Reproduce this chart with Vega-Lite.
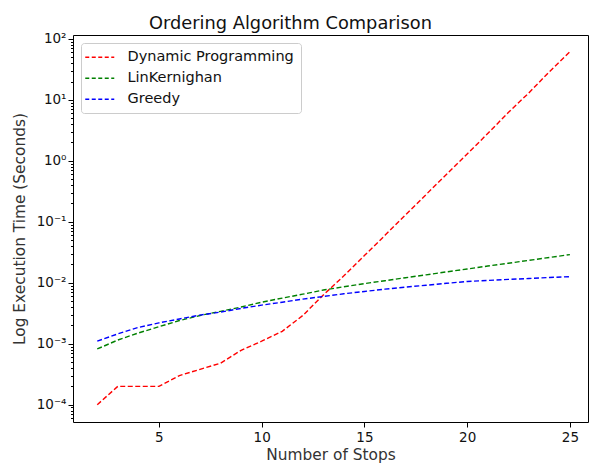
{
  "$schema": "https://vega.github.io/schema/vega-lite/v6.json",
  "autosize": "none",
  "width": 515,
  "height": 387,
  "padding": {"left": 73, "top": 35, "right": 4, "bottom": 48},
  "background": "white",
  "title": {"text": "Ordering Algorithm Comparison", "fontSize": 17.8, "fontWeight": "normal", "font": "DejaVu Sans", "color": "#111111", "offset": -1, "dx": -40, "anchor": "middle", "frame": "group"},
  "config": {
    "font": "DejaVu Sans",
    "view": {"stroke": "#000000", "strokeWidth": 1},
    "axis": {"grid": false, "domain": false, "tickColor": "#000000", "labelColor": "#111111", "titleColor": "#333333", "labelFont": "DejaVu Sans", "titleFont": "DejaVu Sans", "labelFontSize": 13.5, "titleFontSize": 15.4, "titleFontWeight": "normal"}
  },
  "data": {"values": [
    {"stops": 2, "algorithm": "Dynamic Programming", "time": 0.0001},
    {"stops": 3, "algorithm": "Dynamic Programming", "time": 0.0002},
    {"stops": 4, "algorithm": "Dynamic Programming", "time": 0.0002},
    {"stops": 5, "algorithm": "Dynamic Programming", "time": 0.0002},
    {"stops": 6, "algorithm": "Dynamic Programming", "time": 0.0003},
    {"stops": 7, "algorithm": "Dynamic Programming", "time": 0.00038},
    {"stops": 8, "algorithm": "Dynamic Programming", "time": 0.00048},
    {"stops": 9, "algorithm": "Dynamic Programming", "time": 0.00078},
    {"stops": 10, "algorithm": "Dynamic Programming", "time": 0.0011},
    {"stops": 11, "algorithm": "Dynamic Programming", "time": 0.0016},
    {"stops": 12, "algorithm": "Dynamic Programming", "time": 0.0029},
    {"stops": 13, "algorithm": "Dynamic Programming", "time": 0.0063},
    {"stops": 14, "algorithm": "Dynamic Programming", "time": 0.013},
    {"stops": 15, "algorithm": "Dynamic Programming", "time": 0.028},
    {"stops": 16, "algorithm": "Dynamic Programming", "time": 0.06},
    {"stops": 17, "algorithm": "Dynamic Programming", "time": 0.13},
    {"stops": 18, "algorithm": "Dynamic Programming", "time": 0.28},
    {"stops": 19, "algorithm": "Dynamic Programming", "time": 0.6},
    {"stops": 20, "algorithm": "Dynamic Programming", "time": 1.3},
    {"stops": 21, "algorithm": "Dynamic Programming", "time": 2.8},
    {"stops": 22, "algorithm": "Dynamic Programming", "time": 6.2},
    {"stops": 23, "algorithm": "Dynamic Programming", "time": 13},
    {"stops": 24, "algorithm": "Dynamic Programming", "time": 29},
    {"stops": 25, "algorithm": "Dynamic Programming", "time": 62},
    {"stops": 2, "algorithm": "LinKernighan", "time": 0.00082},
    {"stops": 3, "algorithm": "LinKernighan", "time": 0.00115},
    {"stops": 4, "algorithm": "LinKernighan", "time": 0.0015},
    {"stops": 5, "algorithm": "LinKernighan", "time": 0.0019},
    {"stops": 6, "algorithm": "LinKernighan", "time": 0.0024},
    {"stops": 7, "algorithm": "LinKernighan", "time": 0.0029},
    {"stops": 8, "algorithm": "LinKernighan", "time": 0.0034},
    {"stops": 9, "algorithm": "LinKernighan", "time": 0.004},
    {"stops": 10, "algorithm": "LinKernighan", "time": 0.0048},
    {"stops": 11, "algorithm": "LinKernighan", "time": 0.0056},
    {"stops": 12, "algorithm": "LinKernighan", "time": 0.0065},
    {"stops": 13, "algorithm": "LinKernighan", "time": 0.0076},
    {"stops": 14, "algorithm": "LinKernighan", "time": 0.0086},
    {"stops": 15, "algorithm": "LinKernighan", "time": 0.0097},
    {"stops": 16, "algorithm": "LinKernighan", "time": 0.0108},
    {"stops": 17, "algorithm": "LinKernighan", "time": 0.0121},
    {"stops": 18, "algorithm": "LinKernighan", "time": 0.0135},
    {"stops": 19, "algorithm": "LinKernighan", "time": 0.0151},
    {"stops": 20, "algorithm": "LinKernighan", "time": 0.0168},
    {"stops": 21, "algorithm": "LinKernighan", "time": 0.0188},
    {"stops": 22, "algorithm": "LinKernighan", "time": 0.0209},
    {"stops": 23, "algorithm": "LinKernighan", "time": 0.0233},
    {"stops": 24, "algorithm": "LinKernighan", "time": 0.026},
    {"stops": 25, "algorithm": "LinKernighan", "time": 0.029},
    {"stops": 2, "algorithm": "Greedy", "time": 0.0011},
    {"stops": 3, "algorithm": "Greedy", "time": 0.00145},
    {"stops": 4, "algorithm": "Greedy", "time": 0.00185},
    {"stops": 5, "algorithm": "Greedy", "time": 0.0022},
    {"stops": 6, "algorithm": "Greedy", "time": 0.00255},
    {"stops": 7, "algorithm": "Greedy", "time": 0.00295},
    {"stops": 8, "algorithm": "Greedy", "time": 0.0033},
    {"stops": 9, "algorithm": "Greedy", "time": 0.0038},
    {"stops": 10, "algorithm": "Greedy", "time": 0.0043},
    {"stops": 11, "algorithm": "Greedy", "time": 0.0048},
    {"stops": 12, "algorithm": "Greedy", "time": 0.0054},
    {"stops": 13, "algorithm": "Greedy", "time": 0.00595},
    {"stops": 14, "algorithm": "Greedy", "time": 0.0066},
    {"stops": 15, "algorithm": "Greedy", "time": 0.0072},
    {"stops": 16, "algorithm": "Greedy", "time": 0.00785},
    {"stops": 17, "algorithm": "Greedy", "time": 0.0085},
    {"stops": 18, "algorithm": "Greedy", "time": 0.0091},
    {"stops": 19, "algorithm": "Greedy", "time": 0.0098},
    {"stops": 20, "algorithm": "Greedy", "time": 0.0105},
    {"stops": 21, "algorithm": "Greedy", "time": 0.0109},
    {"stops": 22, "algorithm": "Greedy", "time": 0.01135},
    {"stops": 23, "algorithm": "Greedy", "time": 0.01175},
    {"stops": 24, "algorithm": "Greedy", "time": 0.0122},
    {"stops": 25, "algorithm": "Greedy", "time": 0.0126}
  ]},
  "mark": {"type": "line", "strokeWidth": 1.4, "strokeDash": [5, 2.5], "clip": true},
  "encoding": {
    "x": {
      "field": "stops", "type": "quantitative",
      "scale": {"domain": [0.82, 25.88], "nice": false, "zero": false},
      "axis": {"title": "Number of Stops", "values": [5, 10, 15, 20, 25], "tickSize": 5, "labelPadding": 3, "titlePadding": 4, "labelFlush": false}
    },
    "y": {
      "field": "time", "type": "quantitative",
      "scale": {"type": "log", "domain": [0.000052, 116], "nice": false, "zero": false},
      "axis": {
        "title": "Log Execution Time (Seconds)",
        "values": [0.00006, 0.00007, 0.00008, 0.00009,
                   0.0001, 0.0002, 0.0003, 0.0004, 0.0005, 0.0006, 0.0007, 0.0008, 0.0009,
                   0.001, 0.002, 0.003, 0.004, 0.005, 0.006, 0.007, 0.008, 0.009,
                   0.01, 0.02, 0.03, 0.04, 0.05, 0.06, 0.07, 0.08, 0.09,
                   0.1, 0.2, 0.3, 0.4, 0.5, 0.6, 0.7, 0.8, 0.9,
                   1, 2, 3, 4, 5, 6, 7, 8, 9,
                   10, 20, 30, 40, 50, 60, 70, 80, 90, 100],
        "labelExpr": "abs(log(datum.value)/LN10 - round(log(datum.value)/LN10)) < 0.01 ? ['10⁻⁴','10⁻³','10⁻²','10⁻¹','10⁰','10¹','10²'][round(log(datum.value)/LN10)+4] : ''",
        "tickSize": {"condition": {"test": "abs(log(datum.value)/LN10 - round(log(datum.value)/LN10)) < 0.01", "value": 5}, "value": 2.5},
        "labelOverlap": false,
        "labelFlush": false,
        "labelBound": false,
        "labelPadding": 2,
        "titlePadding": 9
      }
    },
    "color": {
      "field": "algorithm", "type": "nominal",
      "scale": {"domain": ["Dynamic Programming", "LinKernighan", "Greedy"], "range": ["#ff0000", "#008000", "#0000ff"]},
      "legend": {
        "title": null, "orient": "none", "legendX": 8, "legendY": 8,
        "symbolType": "M-2,0H3.8", "symbolSize": 100, "symbolStrokeWidth": 1.3, "symbolDash": [4, 2.5],
        "symbolFillColor": "transparent",
        "labelFontSize": 14.5, "labelFont": "DejaVu Sans", "labelColor": "#111111", "labelOffset": 25, "labelLimit": 400,
        "rowPadding": 6, "padding": 7, "fillColor": "white", "strokeColor": "#cccccc", "cornerRadius": 3
      }
    }
  }
}
